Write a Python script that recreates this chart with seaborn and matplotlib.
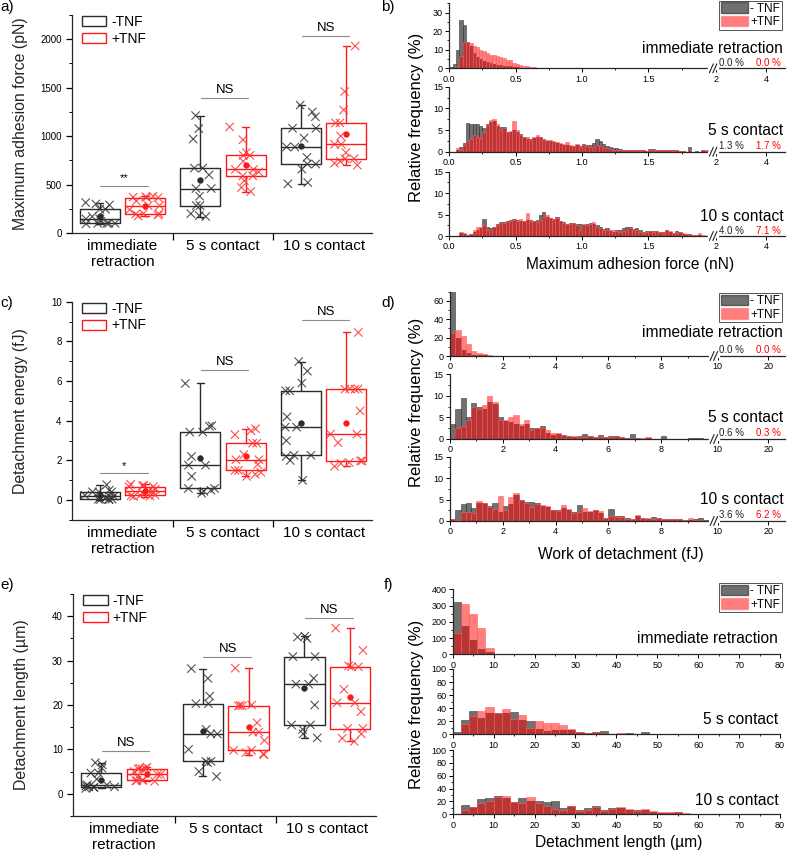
import numpy as np
import pandas as pd
import matplotlib
matplotlib.use('Agg')
import matplotlib.pyplot as plt
from matplotlib.patches import Patch
from matplotlib.ticker import MultipleLocator
import seaborn as sns

sns.set_theme(style='ticks')
plt.rcParams['font.family'] = ['Liberation Sans', 'DejaVu Sans']
plt.rcParams['axes.linewidth'] = 0.9
plt.rcParams['text.color'] = 'black'
plt.rcParams['xtick.color'] = 'black'
plt.rcParams['ytick.color'] = 'black'
np.random.seed(7)

contacts = ['immediate\nretraction', '5 s contact', '10 s contact']
hist_titles = ['immediate retraction', '5 s contact', '10 s contact']
conditions = ['-TNF', '+TNF']

# a) maximum adhesion force (pN), one list per contact time
force_neg = [[95, 100, 100, 100, 100, 120, 145, 145, 170, 245, 245, 290, 300, 314],
             [170, 180, 200, 283, 283, 380, 459, 459, 600, 670, 670, 970, 1077, 1212],
             [508, 520, 660, 712, 712, 780, 888, 888, 980, 1081, 1081, 1200, 1250, 1320]]
force_pos = [[175, 185, 195, 200, 200, 240, 283, 283, 330, 366, 366, 370, 375, 380],
             [428, 470, 540, 590, 590, 630, 656, 656, 740, 801, 801, 830, 963, 1095],
             [700, 720, 740, 767, 767, 830, 915, 915, 1000, 1136, 1136, 1270, 1460, 1930]]

# c) detachment energy (fJ)
energy_neg = [[0.02, 0.03, 0.04, 0.05, 0.05, 0.12, 0.2, 0.2, 0.25, 0.42, 0.42, 0.42, 0.5, 0.78],
              [0.35, 0.45, 0.5, 0.59, 0.59, 1.2, 1.76, 1.76, 2.2, 3.43, 3.43, 3.72, 3.75, 5.88],
              [1.0, 2.0, 2.2, 2.26, 2.26, 3.0, 3.68, 3.68, 4.2, 5.51, 5.51, 5.9, 6.5, 6.98]]
energy_pos = [[0.18, 0.2, 0.22, 0.25, 0.25, 0.35, 0.46, 0.46, 0.55, 0.68, 0.68, 0.72, 0.75, 0.8],
              [1.2, 1.3, 1.4, 1.5, 1.5, 1.8, 2.04, 2.04, 2.3, 2.87, 2.87, 3.3, 3.5, 3.6],
              [1.7, 1.85, 1.9, 1.98, 1.98, 2.9, 3.33, 3.33, 4.5, 5.59, 5.59, 5.6, 5.62, 8.45]]

# e) detachment length (um)
length_neg = [[1.2, 1.4, 1.5, 1.55, 1.55, 1.8, 2.0, 2.0, 3.3, 4.68, 4.68, 5.8, 6.5, 7.0],
              [3.9, 5.0, 7.0, 7.3, 7.3, 10.0, 13.5, 13.5, 14.5, 20.3, 20.3, 22.0, 26.0, 28.2],
              [12.6, 13.5, 14.5, 15.5, 15.5, 20.0, 24.7, 24.7, 26.0, 30.9, 30.9, 35.0, 35.3, 35.5]]
length_pos = [[2.8, 2.9, 3.0, 3.05, 3.05, 3.8, 4.37, 4.37, 5.0, 5.58, 5.58, 5.7, 5.8, 6.0],
              [8.8, 9.0, 9.3, 9.8, 9.8, 12.0, 13.9, 13.9, 16.0, 19.8, 19.8, 19.9, 20.0, 28.3],
              [11.8, 12.5, 13.5, 14.7, 14.7, 18.5, 20.5, 20.5, 23.5, 28.6, 28.6, 28.8, 32.3, 37.3]]

# b) histograms of max adhesion force, bin 0.025 nN, relative frequency (%)
b_bin = 0.025
b_imm_neg = [0.8, 2.5, 10.0, 26.0, 23.5, 14.0, 12.0, 8.0, 6.0, 5.0, 4.0, 3.5, 3.0, 2.5, 2.0, 2.0,
             1.5, 1.2, 1.0, 0.8, 0.5, 0.4, 0.3, 0.2, 0.2, 0.1, 0.1, 0.05, 0.05, 0.05, 0.05, 0.03,
             0.03, 0.02, 0.02, 0.02] + [0] * 42
b_imm_pos = [0.0, 0.3, 1.0, 6.5, 14.0, 14.0, 13.5, 12.0, 11.5, 10.0, 9.5, 8.0, 7.2, 7.0, 6.5, 6.3,
             5.5, 4.5, 4.5, 3.0, 2.3, 1.8, 1.4, 1.2, 0.9, 0.6, 0.4, 0.2, 0.1, 0.05, 0.05, 0.03,
             0.03, 0.02, 0.02, 0.02] + [0] * 42
b_5s_neg = [0, 0, 0.3, 1.0, 2.0, 6.6, 6.5, 6.3, 6.5, 6.0,
            5.5, 6.5, 6.8, 7.0, 6.0, 5.8, 5.8, 4.5, 4.5, 5.0,
            4.5, 4.0, 3.5, 3.0, 3.0, 3.2, 3.5, 3.3, 3.0, 2.5,
            2.5, 2.2, 2.0, 1.8, 1.5, 1.6, 1.3, 1.2, 1.5, 1.2,
            1.8, 1.5, 1.5, 2.0, 2.9, 2.5, 1.8, 1.2, 1.0, 0.8,
            0.8, 0.6, 0.5, 0.4, 0.5, 0.3, 0.3, 0.4, 0.3, 0.2,
            0.6, 0.6, 0.5, 0.5, 0.4, 0.3, 0.3, 0.3, 0.3, 0.2,
            0.2, 0.0, 1.0, 0.0, 0.2, 0.0, 0.3, 0.2]
b_5s_pos = [0, 0, 0.8, 0.5, 1.5, 2.5, 3.0, 3.8, 3.5, 3.2,
            4.5, 6.2, 7.2, 7.5, 6.3, 5.0, 5.5, 4.5, 4.8, 7.0,
            5.0, 3.8, 3.3, 3.5, 2.8, 3.5, 3.8, 3.4, 2.8, 2.8,
            2.6, 2.4, 2.2, 2.0, 1.8, 2.2, 1.5, 1.4, 1.8, 1.0,
            1.5, 1.2, 1.0, 1.0, 1.5, 1.2, 0.8, 0.8, 0.6, 0.5,
            0.4, 0.5, 0.4, 0.3, 0.4, 0.3, 0.3, 0.2, 0.3, 0.2,
            0.4, 0.5, 0.3, 0.4, 0.3, 0.3, 0.3, 0.2, 0.3, 0.2,
            0.2, 0.0, 0.3, 0.0, 0.0, 0.0, 0.4, 0.3]
b_10s_neg = [0, 0, 0, 0.8, 0.5, 0.2, 0.5, 1.0, 1.5, 1.8,
             4.0, 2.0, 1.8, 2.2, 2.8, 3.2, 3.3, 3.5, 3.8, 3.9,
             3.8, 3.5, 3.6, 3.8, 3.8, 3.5, 3.8, 5.0, 5.6, 4.5,
             4.2, 4.0, 4.4, 3.5, 3.2, 2.8, 3.0, 3.0, 2.8, 2.7,
             2.5, 2.8, 3.0, 2.8, 2.5, 2.0, 1.6, 1.8, 1.2, 1.0,
             1.5, 1.3, 1.8, 2.2, 2.0, 1.6, 1.8, 1.3, 1.0, 1.2,
             1.2, 1.2, 1.2, 1.0, 1.0, 1.5, 1.0, 0.7, 1.2, 1.0,
             0.5, 0.5, 0.4, 0.3, 0.2, 0.2, 0.1, 0.1]
b_10s_pos = [0, 0, 0, 1.0, 0.6, 0.3, 0.4, 1.3, 2.0, 2.2,
             2.5, 1.5, 1.5, 2.0, 2.5, 3.0, 3.0, 3.4, 3.6, 3.7,
             3.6, 3.9, 3.4, 5.3, 3.6, 3.5, 3.3, 3.8, 4.5, 4.8,
             4.3, 4.0, 4.2, 3.4, 3.0, 2.9, 2.8, 3.1, 2.6, 1.5,
             2.8, 2.6, 2.8, 3.2, 2.2, 1.8, 1.5, 1.5, 1.4, 1.3,
             1.2, 1.0, 1.1, 1.5, 1.8, 1.5, 1.4, 1.0, 0.8, 1.0,
             1.1, 1.0, 1.1, 0.9, 0.8, 1.3, 1.1, 0.6, 0.8, 0.9,
             0.6, 0.5, 0.4, 0.3, 0.3, 0.8, 0.2, 0.1]
b_over_neg = ['0.0 %', '1.3 %', '4.0 %']
b_over_pos = ['0.0 %', '1.7 %', '7.1 %']

# d) histograms of work of detachment, bin 0.2 fJ
d_bin = 0.2
d_imm_neg = [72, 20, 7, 3, 1.5, 1.0, 0.6, 0.4, 0.3, 0.2, 0.2, 0.2, 0.1] + [0] * 36
d_imm_pos = [25, 28, 22, 13, 5, 3, 2, 1, 0.5, 0.3, 0.2, 0.2, 0.1] + [0] * 36
d_5s_neg = [3.5, 7.0, 9.5, 5.0, 8.3, 7.5, 7.0, 8.5, 8.0, 5.0,
            4.2, 4.0, 3.5, 3.0, 3.5, 2.5, 2.5, 3.0, 1.5, 1.0,
            1.2, 1.0, 0.7, 0.5, 0.8, 1.2, 0.7, 0.5, 1.0, 0.5,
            0.8, 0.6, 0.5, 0.2, 1.2, 0.2, 0.0, 0.3, 0.0, 0.0,
            0.6, 0.0, 0.0, 0.0, 0.0, 0.3, 0.3, 0.3, 0.0]
d_5s_pos = [0.0, 2.5, 3.0, 4.5, 7.5, 7.0, 7.8, 10.0, 8.5, 4.5,
            4.5, 5.0, 5.5, 3.5, 4.5, 2.0, 2.5, 2.5, 2.2, 1.5,
            1.5, 1.0, 0.8, 0.8, 0.5, 0.5, 0.8, 0.5, 0.5, 0.5,
            0.5, 0.6, 0.5, 0.0, 0.2, 0.0, 0.3, 0.5, 0.0, 0.0,
            0.0, 0.0, 0.0, 0.0, 0.0, 0.0, 0.0, 0.0, 0.0]
d_10s_neg = [0.5, 2.5, 4.0, 4.2, 3.0, 4.3, 4.2, 3.5, 4.2, 2.2,
             3.5, 4.0, 6.0, 5.0, 4.5, 4.5, 4.2, 3.5, 3.3, 2.5,
             2.5, 3.0, 2.5, 2.0, 3.8, 2.2, 2.2, 2.6, 1.8, 0.8,
             2.9, 1.2, 1.2, 0.8, 0.4, 1.2, 0.7, 0.5, 1.0, 0.7,
             0.5, 0.5, 0.4, 0.4, 0.3, 0.2, 0.5, 0.7, 0.3]
d_10s_pos = [0.5, 0.3, 2.0, 2.2, 1.8, 4.7, 4.2, 3.3, 2.7, 5.8,
             2.6, 5.5, 6.5, 4.8, 4.2, 3.3, 4.0, 3.8, 3.6, 2.6,
             2.3, 3.7, 2.7, 1.8, 2.0, 3.0, 2.3, 2.6, 2.4, 0.6,
             1.2, 1.0, 1.0, 0.4, 0.4, 1.3, 0.8, 0.8, 0.4, 0.7,
             0.5, 0.4, 0.4, 0.4, 0.3, 0.7, 0.3, 0.2, 0.0]
d_over_neg = ['0.0 %', '0.6 %', '3.6 %']
d_over_pos = ['0.0 %', '0.3 %', '6.2 %']

# f) histograms of detachment length, bin 2 um
f_bin = 2
f_imm_neg = [320, 175, 85, 35, 15] + [0] * 31
f_imm_pos = [130, 310, 245, 160, 40] + [0] * 31
f_5s_neg = [4, 22, 36, 25, 33, 33, 33, 34, 22, 20, 8, 5, 7, 6, 7, 4, 2, 3, 5, 1,
            1, 2, 1, 3, 1] + [0] * 11
f_5s_pos = [0, 16, 28, 36, 42, 33, 38, 23, 29, 10, 20, 17, 17, 14, 8, 4, 2, 3, 1, 1,
            2, 1, 1, 1, 1] + [0] * 11
f_10s_neg = [0, 14, 12, 24, 26, 28, 25, 19, 25, 20, 21, 19, 21, 10, 13, 6, 10, 13, 6, 10,
             10, 7, 6, 7, 4, 2, 2, 3, 1, 1, 1, 0, 0, 0, 0, 0.5]
f_10s_pos = [0, 6, 11, 17, 21, 27, 28, 19, 18, 27, 17, 13, 9, 7, 13, 5, 6, 11, 5, 9,
             11, 9, 5, 8, 5, 3, 3, 4, 2, 0, 0, 0, 0, 0, 0, 0]

W, H = 787, 851
fig = plt.figure(figsize=(W / 100, H / 100), dpi=100)


def rect(x0, y0, x1, y1):
    return [x0 / W, 1 - y1 / H, (x1 - x0) / W, (y1 - y0) / H]


box_col = {'-TNF': '#2b2b2b', '+TNF': '#ff1a1a'}
pt_col = {'-TNF': '#333333', '+TNF': '#ff3030'}
gray_c = '#333333'


def box_panel(box, neg, pos, ylim, major, minor, ylabel, sig):
    rows = []
    for c, vn, vp in zip(contacts, neg, pos):
        rows += [(c, '-TNF', v) for v in vn]
        rows += [(c, '+TNF', v) for v in vp]
    df = pd.DataFrame(rows, columns=['contact', 'condition', 'value'])
    ax = fig.add_axes(rect(*box))
    kw = dict(data=df, x='contact', y='value', hue='condition', order=contacts,
              hue_order=conditions, legend=False, ax=ax)
    sns.boxplot(**kw, palette=box_col, fill=False, width=0.9, gap=0.12, whis=(0, 100),
                linewidth=1.0, showfliers=False, capwidths=0.07)
    n_before = len(ax.collections)
    sns.stripplot(**kw, palette=pt_col, dodge=True, jitter=0.32, marker='x', size=6,
                  linewidth=0.8, alpha=0.85, zorder=3)
    # stripplot dodges by +-0.2, the boxes sit at +-0.225: nudge the points outwards
    for coll in ax.collections[n_before:]:
        off = coll.get_offsets()
        if len(off):
            side = np.sign(off[:, 0].mean() - np.round(off[:, 0].mean()))
            off[:, 0] = off[:, 0] + side * 0.025
            coll.set_offsets(off)
    sns.pointplot(**kw, palette=box_col, dodge=0.45, errorbar=None, markers='o',
                  linestyles='none', markersize=4, markeredgewidth=0.5, zorder=5)
    for i, (yv, txt) in enumerate(sig):
        ax.plot([i - 0.22, i + 0.25], [yv, yv], color='#8c8c8c', lw=0.8)
        ax.annotate(txt, (i + 0.02, yv), xytext=(0, 1.5), textcoords='offset points',
                    ha='center', va='bottom', fontsize=9.5 if txt == 'NS' else 8)
    ax.set_xlim(-0.5, 2.48)
    ax.set_ylim(*ylim)
    ax.set_xticks([0, 1, 2], contacts)
    ax.set_xticks([0.5, 1.5], minor=True)
    ax.tick_params(axis='x', which='major', length=0, pad=4, labelsize=11)
    ax.tick_params(axis='x', which='minor', length=5, width=0.9, direction='out')
    ax.yaxis.set_major_locator(MultipleLocator(major))
    ax.yaxis.set_minor_locator(MultipleLocator(minor))
    ax.tick_params(axis='y', which='major', length=4, width=0.9, labelsize=7, direction='out')
    ax.tick_params(axis='y', which='minor', length=2, width=0.7, direction='out')
    ax.set_xlabel('')
    ax.set_ylabel(ylabel, fontsize=11.4)
    ax.yaxis.set_label_coords(-0.145, 0.5)
    sns.despine(ax=ax)
    handles = [Patch(facecolor='none', edgecolor=box_col[c], lw=1.0) for c in conditions]
    ax.legend(handles, conditions, loc='upper left', bbox_to_anchor=(0.033, 1.0),
              frameon=False, fontsize=10, handlelength=1.75, handleheight=0.75,
              handletextpad=0.35, labelspacing=0.2, borderpad=0, borderaxespad=0)
    return ax


box_panel((72, 15, 372, 233), force_neg, force_pos, (0, 2250), 500, 250,
          'Maximum adhesion force (pN)', [(490, '**'), (1395, 'NS'), (2034, 'NS')])
box_panel((72, 301.7, 372, 520), energy_neg, energy_pos, (-1, 10), 2, 1,
          'Detachment energy (fJ)', [(1.38, '*'), (6.54, 'NS'), (9.07, 'NS')])
box_panel((73.3, 594, 376, 816), length_neg, length_pos, (-5, 45), 10, 5,
          'Detachment length (\u00b5m)', [(9.6, 'NS'), (30.9, 'NS'), (39.6, 'NS')])


def axis_break(ax, xb, ppu, hfrac):
    tr = ax.get_xaxis_transform()
    ax.plot([xb - 2.5 / ppu, xb + 6 / ppu], [0, 0], color='white', lw=2.5,
            transform=tr, clip_on=False, zorder=6)
    for off in (0, 3.5 / ppu):
        ax.plot([xb - 2 / ppu + off, xb + 2 / ppu + off], [-hfrac, hfrac], color='#222222',
                lw=0.8, transform=tr, clip_on=False, zorder=7)


def hist_panel(x0, x1, ys, data, bw, ymax, ymajor, xlim, xticks, xlabels, xminor,
               title_y, over=None, over_y=None, brk=None):
    for k, (neg, pos) in enumerate(data):
        ax = fig.add_axes(rect(x0, ys[k][0], x1, ys[k][1]))
        edges = np.arange(len(neg) + 1) * bw
        centers = (edges[:-1] + edges[1:]) / 2
        sns.histplot(x=centers, weights=neg, bins=list(edges), color=gray_c, alpha=0.7,
                     edgecolor='#3a3a3a', linewidth=0.4, ax=ax)
        sns.histplot(x=centers, weights=pos, bins=list(edges), color='#ff0000', alpha=0.5,
                     edgecolor='#ff6060', linewidth=0.4, ax=ax)
        ax.set_xlim(*xlim)
        ax.set_ylim(0, ymax[k])
        ax.set_xticks(xticks, xlabels)
        ax.set_xticks(xminor, minor=True)
        ax.yaxis.set_major_locator(MultipleLocator(ymajor[k]))
        ax.yaxis.set_minor_locator(MultipleLocator(ymajor[k] / 2))
        ax.tick_params(which='major', length=3, width=0.7, labelsize=6.5, pad=1.5,
                       direction='out')
        ax.tick_params(which='minor', length=1.5, width=0.6, direction='out')
        ax.set_xlabel('')
        ax.set_ylabel('')
        sns.despine(ax=ax)
        ax.text(0.995, title_y[k], hist_titles[k], transform=ax.transAxes, ha='right',
                va='center', fontsize=11.2)
        if over is not None:
            ax.text(0.841, over_y[k], over[0][k], transform=ax.transAxes, ha='center',
                    va='center', fontsize=7, color='#222222')
            ax.text(0.952, over_y[k], over[1][k], transform=ax.transAxes, ha='center',
                    va='center', fontsize=7, color='#ff0000')
        if brk is not None:
            h = ys[k][1] - ys[k][0]
            axis_break(ax, brk[0], brk[1], 4.5 / h)


hist_panel(449.3, 785, [(3.3, 68.3), (86.7, 151.7), (171.7, 236)],
           [(b_imm_neg, b_imm_pos), (b_5s_neg, b_5s_pos), (b_10s_neg, b_10s_pos)],
           b_bin, [35, 15, 15], [10, 5, 5], (0, 2.53),
           [0, 0.5, 1.0, 1.5, 2.01, 2.39], ['0.0', '0.5', '1.0', '1.5', '2', '4'],
           [0.25, 0.75, 1.25, 1.75], [0.3, 0.33, 0.31],
           over=(b_over_neg, b_over_pos), over_y=[0.08, 0.08, 0.08], brk=(1.975, 132.7))

hist_panel(450, 785, [(291.7, 356), (374.3, 439), (456.7, 521)],
           [(d_imm_neg, d_imm_pos), (d_5s_neg, d_5s_pos), (d_10s_neg, d_10s_pos)],
           d_bin, [70, 15, 15], [20, 5, 5], (0, 12.69),
           [0, 2, 4, 6, 8, 10.14, 12.06], ['0', '2', '4', '6', '8', '10', '20'],
           [1, 3, 5, 7, 9], [0.36, 0.34, 0.34],
           over=(d_over_neg, d_over_pos), over_y=[0.09, 0.09, 0.09], brk=(9.93, 26.4))

hist_panel(452.7, 780, [(589.3, 654.3), (669, 734.3), (750, 814.3)],
           [(f_imm_neg, f_imm_pos), (f_5s_neg, f_5s_pos), (f_10s_neg, f_10s_pos)],
           f_bin, [400, 100, 100], [100, 20, 20], (0, 80),
           list(range(0, 81, 10)), [str(v) for v in range(0, 81, 10)],
           list(range(5, 80, 10)), [0.25, 0.23, 0.21])


def hist_legend(x_right, y_top):
    handles = [Patch(facecolor=gray_c, alpha=0.7, edgecolor='#333333'),
               Patch(facecolor='#ff0000', alpha=0.5, edgecolor='#ff6060')]
    leg = fig.legend(handles, ['- TNF', '+TNF'], loc='upper right',
                     bbox_to_anchor=(x_right / W, 1 - y_top / H), fontsize=8.5,
                     frameon=True, fancybox=False, edgecolor='#555555', framealpha=1,
                     handlelength=2.3, handleheight=1.0, handletextpad=0.2,
                     labelspacing=0.1, borderpad=0.15, borderaxespad=0)
    leg.get_frame().set_linewidth(0.7)


hist_legend(782, 0.5)
hist_legend(782, 293)
hist_legend(782, 583)

for label, cy in [('Relative frequency (%)', 117), ('Relative frequency (%)', 402),
                  ('Relative frequency (%)', 704)]:
    fig.text(416.7 / W, 1 - cy / H, label, rotation=90, ha='center', va='center',
             fontsize=12)
for label, cx, cy in [('Maximum adhesion force (nN)', 630, 265),
                      ('Work of detachment (fJ)', 620.7, 555),
                      ('Detachment length (\u00b5m)', 619, 843)]:
    fig.text(cx / W, 1 - cy / H, label, ha='center', va='center', fontsize=11.2)

for letter, cx, cy in [('a)', 7, 7), ('b)', 388, 7), ('c)', 7, 303), ('d)', 388, 303),
                       ('e)', 7, 585), ('f)', 388, 585)]:
    fig.text(cx / W, 1 - cy / H, letter, ha='center', va='center', fontsize=11)

fig.savefig('out.png', dpi=100)
